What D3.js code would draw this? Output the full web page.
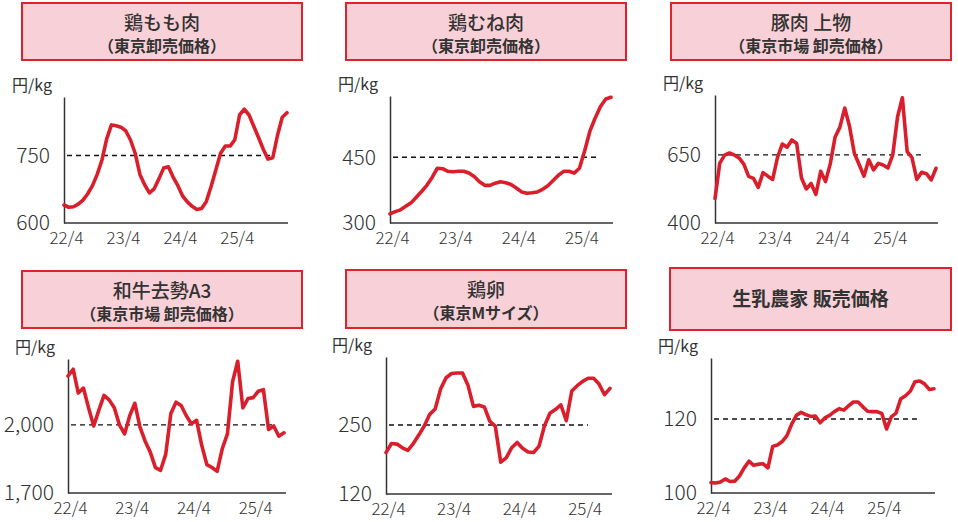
<!DOCTYPE html>
<html>
<head>
<meta charset="utf-8">
<script src="https://cdn.jsdelivr.net/npm/d3@7"></script>
<style>
  body { margin: 0; background: #fff; }
  svg { display: block; }
</style>
</head>
<body>
<div id="chart"></div>
<script>
// tick labels on the time axis (month index 0, 12, 24, 36)
var xLabels = ["22/4", "23/4", "24/4", "25/4"];
var xTickIdx = [0, 12, 24, 36];

var titles = ["鶏もも肉", "鶏むね肉", "豚肉 上物", "和牛去勢A3", "鶏卵", "生乳農家 販売価格"];
var subtitles = ["（東京卸売価格）", "（東京卸売価格）", "（東京市場 卸売価格）", "（東京市場 卸売価格）", "（東京Mサイズ）", ""];

// monthly prices from 2022/4 (円/kg)
var momoValues = [640, 635, 636, 642, 651, 665, 683, 708, 740, 787, 818, 816, 813, 805, 785, 755,
  708, 685, 667, 676, 698, 722, 725, 702, 683, 660, 647, 637, 630, 632, 648, 681,
  718, 755, 771, 771, 785, 840, 853, 840, 815, 790, 764, 742, 745, 795, 835, 845];
var muneValues = [321, 326, 330, 338, 346, 359, 372, 386, 404, 425, 424, 418, 417, 418, 418, 414,
  406, 394, 386, 386, 391, 394, 392, 388, 380, 371, 368, 369, 371, 377, 385, 397,
  409, 418, 418, 414, 425, 465, 510, 540, 566, 583, 587];
var butaValues = [490, 620, 649, 657, 650, 639, 616, 571, 564, 531, 585, 572, 560, 640, 690, 678,
  705, 692, 565, 525, 545, 505, 590, 552, 618, 716, 752, 822, 755, 656, 615, 572,
  632, 595, 619, 613, 602, 650, 790, 860, 662, 640, 560, 586, 581, 558, 601];
var wagyuValues = [2215, 2245, 2140, 2162, 2075, 1995, 2065, 2130, 2110, 2075, 2000, 1960, 2040, 2095, 1990, 1928,
  1880, 1812, 1800, 1870, 2050, 2100, 2085, 2040, 2005, 2020, 1910, 1825, 1812, 1795, 1895, 1960,
  2190, 2280, 2075, 2116, 2120, 2148, 2155, 1980, 1995, 1950, 1965];
var eggValues = [198, 215, 214, 207, 202, 215, 231, 248, 270, 280, 318, 339, 347, 348, 348, 325,
  285, 287, 284, 257, 248, 180, 188, 207, 217, 206, 199, 198, 210, 248, 272, 279,
  288, 258, 314, 324, 332, 338, 338, 327, 307, 319];
var milkValues = [102.8, 102.7, 103.0, 103.8, 103.1, 103.2, 104.6, 106.8, 108.6, 107.5, 107.8, 107.9, 106.8, 112.6, 113.0, 113.9,
  115.5, 118.6, 121.0, 121.8, 121.2, 120.7, 120.8, 119.0, 120.3, 121.0, 122.0, 122.8, 122.4, 123.6, 124.6, 124.6,
  123.3, 122.1, 122.0, 122.0, 121.5, 117.3, 120.6, 121.6, 125.5, 126.3, 127.5, 130.1, 130.3, 129.5, 128.0, 128.2];

var yTicks = [[600, 750], [300, 450], [400, 650], [1700, 2000], [120, 250], [100, 120]];
var yMax = [880, 590, 870, 2290, 378, 136.5];
var series = [momoValues, muneValues, butaValues, wagyuValues, eggValues, milkValues];

// layout of each panel: title box, plot area, reference line extent
var layout = [
  { box: [22, 3, 280, 57],   x0: 64,  x1: 288, xEnd: 287, y0: 97,  y1: 223, dashEnd: 273, unitX: 12 },
  { box: [346, 3, 280, 57],  x0: 390, x1: 613, xEnd: 611, y0: 96,  y1: 223, dashEnd: 600, unitX: 338 },
  { box: [671, 3, 280, 57],  x0: 715, x1: 938, xEnd: 936, y0: 95,  y1: 223, dashEnd: 925, unitX: 663 },
  { box: [22, 271, 280, 57], x0: 68,  x1: 286, xEnd: 284, y0: 359, y1: 493, dashEnd: 272, unitX: 15 },
  { box: [346, 270, 280, 58], x0: 386, x1: 612, xEnd: 610, y0: 357, y1: 494, dashEnd: 588, unitX: 332 },
  { box: [670, 268, 281, 62], x0: 711, x1: 935, xEnd: 934, y0: 358, y1: 493, dashEnd: 920, unitX: 658 }
];

var width = 958, height = 522;
var red = "#d91f2b";
var font = "'Noto Sans CJK JP', 'Noto Sans', sans-serif";

var svg = d3.select("#chart").append("svg")
  .attr("width", width)
  .attr("height", height);

layout.forEach(function(L, i) {
  var data = series[i];
  var g = svg.append("g");

  // title box
  g.append("rect")
    .attr("x", L.box[0]).attr("y", L.box[1])
    .attr("width", L.box[2]).attr("height", L.box[3])
    .style("fill", "#f8d0d7")
    .style("stroke", "#e0222d")
    .style("stroke-width", 2);

  var cx = L.box[0] + L.box[2] / 2;
  if (subtitles[i]) {
    g.append("text")
      .attr("x", cx).attr("y", L.box[1] + 27)
      .attr("text-anchor", "middle")
      .style("font-family", font).style("font-weight", 500)
      .style("font-size", "19px").style("fill", "#333")
      .text(titles[i]);
    g.append("text")
      .attr("x", cx).attr("y", L.box[1] + 49)
      .attr("text-anchor", "middle")
      .style("font-family", font).style("font-weight", 700)
      .style("font-size", "16px").style("fill", "#333")
      .text(subtitles[i]);
  } else {
    g.append("text")
      .attr("x", cx).attr("y", L.box[1] + L.box[3] / 2 + 7)
      .attr("text-anchor", "middle")
      .style("font-family", font).style("font-weight", 700)
      .style("font-size", "19px").style("fill", "#333")
      .text(titles[i]);
  }

  var x = d3.scaleLinear().domain([0, data.length - 1]).range([L.x0, L.xEnd]);
  var y = d3.scaleLinear().domain([yTicks[i][0], yMax[i]]).range([L.y1, L.y0]);

  // unit
  g.append("text")
    .attr("x", L.unitX).attr("y", L.y0 - 6)
    .style("font-family", font)
    .style("font-size", "16px").style("fill", "#333")
    .text("円/kg");

  // axes
  var yAxis = g.append("g")
    .attr("transform", "translate(" + L.x0 + ",0)")
    .call(d3.axisLeft(y).tickValues(yTicks[i]).tickSize(0).tickPadding(14)
      .tickFormat(d3.format(",")));
  var xAxis = g.append("g")
    .attr("transform", "translate(0," + L.y1 + ")")
    .call(d3.axisBottom(x)
      .tickValues(xTickIdx).tickSize(0).tickPadding(9)
      .tickFormat(function(d, k) { return xLabels[k]; }));
  xAxis.select(".domain").attr("d", "M" + L.x0 + ",0H" + L.x1);

  [yAxis, xAxis].forEach(function(a) {
    a.select(".domain").style("stroke", "#333").style("stroke-width", 1.5);
    a.selectAll("text").style("font-family", font).style("font-weight", 300).style("fill", "#333");
  });
  yAxis.selectAll("text").style("font-size", "21px");
  xAxis.selectAll("text").style("font-size", "17px").attr("dx", 2);

  // reference line at the middle tick
  g.append("line")
    .attr("x1", L.x0 + 3).attr("x2", L.dashEnd)
    .attr("y1", y(yTicks[i][1])).attr("y2", y(yTicks[i][1]))
    .style("stroke", "#111")
    .style("stroke-width", 1.4)
    .style("stroke-dasharray", "5,4");

  var line = d3.line()
    .x(function(d, k) { return x(k); })
    .y(function(d) { return y(d); });

  g.append("path")
    .datum(data)
    .attr("d", line)
    .style("fill", "none")
    .style("stroke", red)
    .style("stroke-width", 3.6)
    .style("stroke-linejoin", "round")
    .style("stroke-linecap", "round");
});
</script>
</body>
</html>
